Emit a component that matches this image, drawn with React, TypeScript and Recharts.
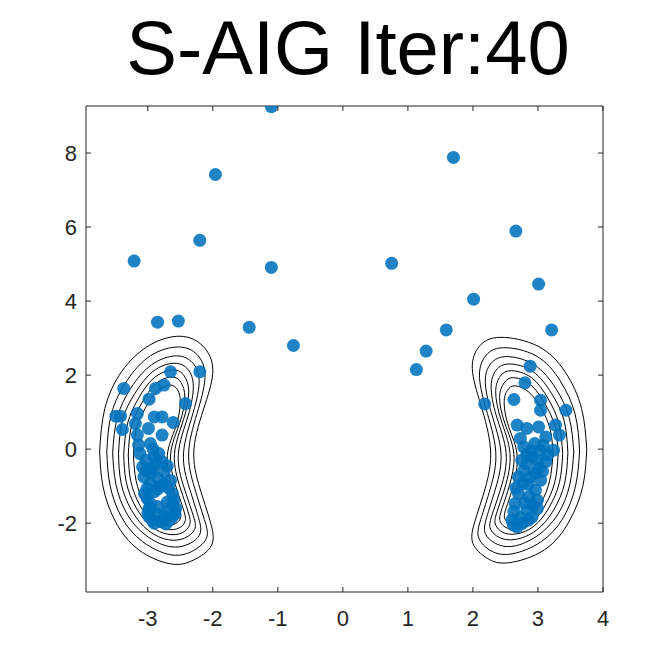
import { ScatterChart, Scatter, XAxis, YAxis, ReferenceArea } from "recharts";

type Pt = [number, number];

const TITLE = "S-AIG Iter:40";
const X_TICKS = [-3, -2, -1, 0, 1, 2, 3, 4];
const Y_TICKS = [-2, 0, 2, 4, 6, 8];
const X_DOMAIN: [number, number] = [-3.95, 4];
const Y_DOMAIN: [number, number] = [-3.86, 9.27];

// samples scattered away from the two modes
const FAR_SAMPLES: Pt[] = [
    [-1.1, 9.25], [-1.96, 7.42], [1.7, 7.88], [-3.21, 5.08], [-2.2, 5.64],
    [-1.1, 4.91], [0.75, 5.02], [2.66, 5.89], [3.01, 4.46], [2.01, 4.05],
    [1.59, 3.22], [3.21, 3.22], [-1.44, 3.29], [-0.76, 2.8], [-2.85, 3.43],
    [-2.53, 3.46], [1.28, 2.65], [1.13, 2.15], [2.88, 2.24], [2.18, 1.22],
    [-2.2, 2.09],
];

const LEFT_SAMPLES: Pt[] = [
    [-2.65, 2.09], [-3.37, 1.64], [-2.88, 1.64], [-2.75, 1.73], [-2.98, 1.35],
    [-2.42, 1.23], [-3.16, 0.96], [-3.49, 0.89], [-3.42, 0.89], [-2.9, 0.87],
    [-2.78, 0.87], [-2.61, 0.72], [-3.39, 0.53], [-3.19, 0.69], [-2.99, 0.56],
    [-2.78, 0.38], [-3.16, 0.38], [-2.96, 0.15], [-3.14, 0.11], [-3.12, -0.12],
    [-2.83, -0.12], [-3.03, -0.3], [-2.78, -0.34], [-3.08, -0.48], [-2.93, -0.52],
    [-2.75, -0.61], [-3.06, -0.75], [-2.85, -0.79], [-2.96, -0.93], [-2.75, -0.95],
    [-2.9, -1.15], [-3.01, -1.33], [-2.62, -1.2], [-2.96, -1.47], [-2.6, -1.38],
    [-2.57, -1.6], [-2.98, -1.6], [-2.7, -1.69], [-2.88, -1.74], [-2.98, -1.83],
    [-2.62, -1.83], [-2.8, -1.96], [-2.93, -1.92], [-2.67, -1.92], [-2.85, -1.08],
    [-2.7, -1.43], [-3.01, -1.06], [-2.9, -0.2], [-2.7, -0.45], [-2.95, -0.65],
    [-2.65, -0.85], [-2.8, -1.0], [-2.68, -1.05], [-3.05, -1.2], [-2.62, -1.5],
    [-2.85, -1.55], [-3.0, -1.72], [-2.75, -1.8], [-2.58, -1.75], [-2.9, -2.0],
    [-2.72, -2.02], [-3.02, -0.58], [-2.88, -0.38], [-2.92, 0.0],
];

const RIGHT_SAMPLES: Pt[] = [
    [2.8, 1.79], [2.63, 1.34], [3.04, 1.32], [3.04, 1.05], [3.43, 1.05],
    [2.68, 0.65], [2.83, 0.56], [3.01, 0.6], [3.27, 0.65], [3.33, 0.38],
    [2.73, 0.29], [3.12, 0.33], [2.78, 0.06], [3.24, -0.03], [3.04, -0.03],
    [2.91, -0.21], [3.12, -0.34], [2.83, -0.39], [3.01, -0.52], [2.88, -0.75],
    [3.04, -0.84], [2.76, -0.93], [2.96, -1.11], [2.7, -1.2], [2.86, -1.29],
    [2.65, -1.47], [2.99, -1.38], [2.63, -1.69], [2.83, -1.65], [2.6, -1.92],
    [2.76, -2.01], [2.68, -2.1], [2.91, -1.83], [2.99, -1.6], [2.78, -0.59],
    [2.83, -0.14], [2.95, 0.15], [2.9, -0.05], [3.0, -0.3], [2.75, -0.3],
    [2.95, -0.65], [2.7, -0.75], [3.07, -0.6], [2.85, -0.95], [2.66, -1.05],
    [2.8, -1.45], [2.92, -1.5], [2.73, -1.85], [2.85, -1.92], [2.62, -2.05],
    [3.08, 0.1], [3.15, -0.15],
];

// contour lines of the target density, outer to inner
const LEFT_CONTOURS: Pt[][] = [
    [[-3.74, -0.05], [-3.66, 1.1], [-3.4, 2.1], [-2.98, 2.8], [-2.5, 3.05], [-2.15, 2.78], [-2.0, 2.15], [-2.12, 1.2], [-2.29, 0.0], [-2.2, -1.05], [-2.04, -1.95], [-2.02, -2.6], [-2.3, -3.0], [-2.65, -3.1], [-3.14, -2.72], [-3.5, -1.95], [-3.69, -1.0], [-3.74, -0.05]],
    [[-3.63, -0.08], [-3.56, 0.95], [-3.32, 1.85], [-2.96, 2.52], [-2.53, 2.76], [-2.24, 2.55], [-2.12, 2.0], [-2.22, 1.1], [-2.37, -0.05], [-2.28, -1.05], [-2.13, -1.9], [-2.1, -2.42], [-2.33, -2.77], [-2.66, -2.85], [-3.08, -2.5], [-3.4, -1.85], [-3.58, -0.98], [-3.63, -0.08]],
    [[-3.54, -0.1], [-3.47, 0.85], [-3.26, 1.65], [-2.94, 2.28], [-2.56, 2.52], [-2.31, 2.33], [-2.21, 1.85], [-2.3, 1.0], [-2.45, -0.1], [-2.36, -1.05], [-2.22, -1.85], [-2.2, -2.3], [-2.38, -2.57], [-2.67, -2.63], [-3.03, -2.33], [-3.32, -1.75], [-3.49, -0.95], [-3.54, -0.1]],
    [[-3.45, -0.12], [-3.39, 0.78], [-3.2, 1.5], [-2.92, 2.1], [-2.59, 2.32], [-2.38, 2.15], [-2.3, 1.7], [-2.38, 0.9], [-2.53, -0.12], [-2.44, -1.05], [-2.3, -1.8], [-2.28, -2.17], [-2.43, -2.4], [-2.68, -2.45], [-2.99, -2.2], [-3.25, -1.65], [-3.41, -0.92], [-3.45, -0.12]],
    [[-3.37, -0.14], [-3.31, 0.7], [-3.14, 1.38], [-2.9, 1.93], [-2.61, 2.14], [-2.44, 1.98], [-2.37, 1.55], [-2.45, 0.8], [-2.59, -0.14], [-2.5, -1.05], [-2.37, -1.75], [-2.36, -2.06], [-2.47, -2.26], [-2.69, -2.3], [-2.95, -2.08], [-3.18, -1.58], [-3.33, -0.9], [-3.37, -0.14]],
    [[-3.3, -0.16], [-3.25, 0.62], [-3.09, 1.25], [-2.88, 1.76], [-2.63, 1.95], [-2.49, 1.8], [-2.43, 1.4], [-2.51, 0.7], [-2.65, -0.16], [-2.56, -1.05], [-2.44, -1.7], [-2.43, -1.97], [-2.52, -2.13], [-2.7, -2.17], [-2.92, -1.98], [-3.12, -1.52], [-3.26, -0.88], [-3.3, -0.16]],
    [[-3.22, -0.18], [-3.18, 0.52], [-3.04, 1.1], [-2.86, 1.55], [-2.66, 1.73], [-2.54, 1.6], [-2.5, 1.25], [-2.57, 0.6], [-2.7, -0.18], [-2.62, -1.05], [-2.51, -1.65], [-2.5, -1.88], [-2.57, -2.01], [-2.71, -2.05], [-2.89, -1.88], [-3.06, -1.45], [-3.18, -0.85], [-3.22, -0.18]],
];

const RIGHT_CONTOURS: Pt[][] = [
    [[3.75, 0.0], [3.67, 1.1], [3.42, 2.08], [3.0, 2.78], [2.42, 3.02], [2.1, 2.78], [1.99, 2.18], [2.12, 1.2], [2.27, 0.0], [2.19, -1.05], [2.03, -1.95], [2.0, -2.55], [2.22, -2.95], [2.55, -3.07], [3.1, -2.72], [3.48, -1.95], [3.69, -1.0], [3.75, 0.0]],
    [[3.64, -0.05], [3.57, 0.95], [3.34, 1.85], [2.97, 2.52], [2.47, 2.74], [2.2, 2.53], [2.1, 2.0], [2.2, 1.1], [2.35, -0.05], [2.27, -1.05], [2.12, -1.9], [2.09, -2.4], [2.28, -2.75], [2.6, -2.83], [3.05, -2.5], [3.39, -1.85], [3.58, -0.98], [3.64, -0.05]],
    [[3.55, -0.08], [3.48, 0.85], [3.27, 1.65], [2.94, 2.28], [2.52, 2.5], [2.28, 2.32], [2.19, 1.85], [2.28, 1.0], [2.43, -0.08], [2.35, -1.05], [2.21, -1.85], [2.19, -2.28], [2.35, -2.55], [2.63, -2.62], [3.0, -2.33], [3.31, -1.75], [3.49, -0.95], [3.55, -0.08]],
    [[3.46, -0.1], [3.4, 0.78], [3.21, 1.5], [2.92, 2.1], [2.56, 2.3], [2.36, 2.14], [2.28, 1.7], [2.36, 0.9], [2.51, -0.1], [2.43, -1.05], [2.29, -1.8], [2.27, -2.16], [2.41, -2.39], [2.65, -2.44], [2.97, -2.2], [3.24, -1.65], [3.41, -0.92], [3.46, -0.1]],
    [[3.38, -0.12], [3.32, 0.7], [3.15, 1.38], [2.9, 1.93], [2.59, 2.12], [2.42, 1.97], [2.35, 1.55], [2.43, 0.8], [2.57, -0.12], [2.49, -1.05], [2.36, -1.75], [2.35, -2.05], [2.46, -2.25], [2.67, -2.29], [2.94, -2.08], [3.17, -1.58], [3.33, -0.9], [3.38, -0.12]],
    [[3.31, -0.14], [3.26, 0.62], [3.1, 1.25], [2.88, 1.75], [2.62, 1.93], [2.48, 1.79], [2.41, 1.4], [2.49, 0.7], [2.63, -0.14], [2.55, -1.05], [2.43, -1.7], [2.42, -1.96], [2.51, -2.12], [2.69, -2.16], [2.91, -1.98], [3.11, -1.52], [3.26, -0.88], [3.31, -0.14]],
    [[3.23, -0.16], [3.19, 0.52], [3.05, 1.1], [2.86, 1.54], [2.65, 1.71], [2.53, 1.59], [2.48, 1.25], [2.55, 0.6], [2.68, -0.16], [2.61, -1.05], [2.5, -1.65], [2.49, -1.88], [2.56, -2.0], [2.7, -2.04], [2.88, -1.88], [3.05, -1.45], [3.18, -0.85], [3.23, -0.16]],
];

const SIZE = 667;
const PLOT = { left: 86, right: 603, top: 106, bottom: 592 };
const AXIS_COLOR = "#262626";
const DOT_COLOR = "#0072BD";
const FONT = "'Liberation Sans', Arial, Helvetica, sans-serif";
const TICK_LEN = 5;
const TICK_FONT = 22;

const toPoints = (arr: Pt[]) => arr.map(([x, y]) => ({ x, y }));

function XTick(props: any) {
    const { x, payload } = props;
    return (
        <g>
            <line x1={x} x2={x} y1={PLOT.bottom} y2={PLOT.bottom - TICK_LEN} stroke={AXIS_COLOR} />
            <line x1={x} x2={x} y1={PLOT.top} y2={PLOT.top + TICK_LEN} stroke={AXIS_COLOR} />
            <text x={x} y={PLOT.bottom + 34} textAnchor="middle" fontSize={TICK_FONT} fontFamily={FONT} fill={AXIS_COLOR}>
                {String(payload.value)}
            </text>
        </g>
    );
}

function YTick(props: any) {
    const { y, payload } = props;
    return (
        <g>
            <line x1={PLOT.left} x2={PLOT.left + TICK_LEN} y1={y} y2={y} stroke={AXIS_COLOR} />
            <line x1={PLOT.right} x2={PLOT.right - TICK_LEN} y1={y} y2={y} stroke={AXIS_COLOR} />
            <text x={PLOT.left - 9} y={y + 8} textAnchor="end" fontSize={TICK_FONT} fontFamily={FONT} fill={AXIS_COLOR}>
                {String(payload.value)}
            </text>
        </g>
    );
}

const Dot = (p: any) => <circle cx={p.cx} cy={p.cy} r={6.5} fill={DOT_COLOR} fillOpacity={0.88} />;

export default function App() {
    const samples = toPoints([...FAR_SAMPLES, ...LEFT_SAMPLES, ...RIGHT_SAMPLES]);
    const contours = [...LEFT_CONTOURS, ...RIGHT_CONTOURS];

    return (
        <div style={{ position: "absolute", left: 0, top: 0, width: SIZE, height: SIZE, background: "#fff" }}>
            <div
                style={{
                    position: "absolute",
                    left: 0,
                    top: 10,
                    width: 2 * 348,
                    textAlign: "center",
                    fontFamily: FONT,
                    fontSize: 76,
                    lineHeight: 1,
                    color: "#000",
                }}
            >
                {TITLE}
            </div>
            <ScatterChart
                width={SIZE}
                height={SIZE}
                margin={{ top: PLOT.top, right: SIZE - PLOT.right, bottom: 0, left: 0 }}
            >
                <XAxis
                    type="number"
                    dataKey="x"
                    domain={X_DOMAIN}
                    ticks={X_TICKS}
                    allowDataOverflow
                    height={SIZE - PLOT.bottom}
                    axisLine={false}
                    tickLine={false}
                    tick={XTick}
                />
                <YAxis
                    type="number"
                    dataKey="y"
                    domain={Y_DOMAIN}
                    ticks={Y_TICKS}
                    allowDataOverflow
                    width={PLOT.left}
                    axisLine={false}
                    tickLine={false}
                    tick={YTick}
                />
                <ReferenceArea
                    x1={X_DOMAIN[0]}
                    x2={X_DOMAIN[1]}
                    y1={Y_DOMAIN[0]}
                    y2={Y_DOMAIN[1]}
                    fill="none"
                    stroke={AXIS_COLOR}
                    strokeWidth={1}
                    ifOverflow="visible"
                />
                {contours.map((c, i) => (
                    <Scatter
                        key={"c" + i}
                        data={toPoints(c)}
                        line={{ stroke: "#000", strokeWidth: 1 }}
                        lineJointType="natural"
                        shape={() => <g />}
                        legendType="none"
                        isAnimationActive={false}
                    />
                ))}
                <Scatter data={samples} shape={Dot} legendType="none" isAnimationActive={false} />
            </ScatterChart>
        </div>
    );
}
